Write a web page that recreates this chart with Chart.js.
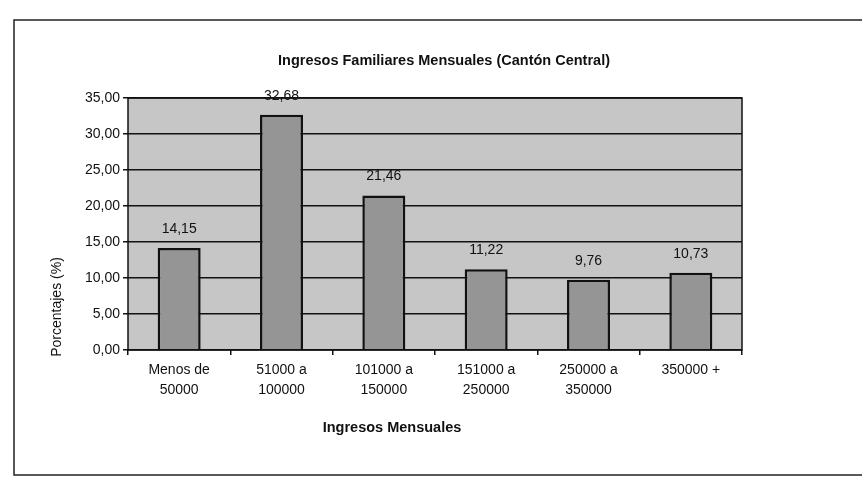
<!DOCTYPE html>
<html>
<head>
<meta charset="utf-8">
<script src="https://cdn.jsdelivr.net/npm/chart.js@4/dist/chart.umd.min.js"></script>
<style>
  html, body { margin: 0; padding: 0; background: #fff; }
  #wrap { width: 862px; height: 490px; position: relative; }
</style>
</head>
<body>
<div id="wrap"><canvas id="ingresosChart"></canvas></div>
<script>
const categories = [
    ['Menos de', '50000'],
    ['51000 a', '100000'],
    ['101000 a', '150000'],
    ['151000 a', '250000'],
    ['250000 a', '350000'],
    ['350000 +']
];
const porcentajes = [14.15, 32.68, 21.46, 11.22, 9.76, 10.73];
const yTicks = [0, 5, 10, 15, 20, 25, 30, 35];

const FONT = '"Liberation Sans", Arial, sans-serif';
const fmt = v => v.toFixed(2).replace('.', ',');

// outer frame, plot background, titles and value labels
const framePlugin = {
    id: 'frame',
    beforeDraw(chart) {
        const ctx = chart.ctx;
        const a = chart.chartArea;
        ctx.save();
        ctx.strokeStyle = '#222';
        ctx.lineWidth = 1.5;
        ctx.strokeRect(14, 20, 900, 455);
        ctx.fillStyle = '#c6c6c6';
        ctx.fillRect(a.left, a.top, a.right - a.left, a.bottom - a.top);

        ctx.fillStyle = '#111';
        ctx.textAlign = 'center';
        ctx.textBaseline = 'middle';
        ctx.font = 'bold 14.5px ' + FONT;
        ctx.fillText('Ingresos Familiares Mensuales (Cantón Central)', 444, 61);
        ctx.fillText('Ingresos Mensuales', 392, 428);
        ctx.font = '14px ' + FONT;
        ctx.translate(57, 307);
        ctx.rotate(-Math.PI / 2);
        ctx.fillText('Porcentajes (%)', 0, 0);
        ctx.restore();
    },
    afterDatasetsDraw(chart) {
        const ctx = chart.ctx;
        const a = chart.chartArea;
        ctx.save();
        ctx.strokeStyle = '#111';
        ctx.lineWidth = 1.5;
        ctx.strokeRect(a.left, a.top, a.right - a.left, a.bottom - a.top);
        ctx.fillStyle = '#111';
        ctx.font = '14px ' + FONT;
        ctx.textAlign = 'center';
        ctx.textBaseline = 'bottom';
        chart.getDatasetMeta(0).data.forEach((bar, i) => {
            ctx.fillText(fmt(porcentajes[i]), bar.x, bar.y - 12);
        });
        ctx.restore();
    }
};

const ctx = document.getElementById('ingresosChart').getContext('2d');
const chart = new Chart(ctx, {
    type: 'bar',
    data: {
        labels: categories,
        datasets: [{
            data: porcentajes,
            backgroundColor: '#959595',
            borderColor: '#111',
            borderWidth: 2.5,
            barPercentage: 0.42,
            categoryPercentage: 1
        }]
    },
    options: {
        responsive: true,
        maintainAspectRatio: false,
        animation: false,
        layout: { padding: { left: 45, right: 120, top: 98, bottom: 48 } },
        plugins: {
            legend: { display: false },
            tooltip: { enabled: false },
            title: { display: false }
        },
        scales: {
            y: {
                min: 0,
                max: 35,
                afterBuildTicks: scale => { scale.ticks = yTicks.map(v => ({ value: v })); },
                afterFit: scale => { scale.width = 83; scale.paddingTop = 0; scale.paddingBottom = 0; },
                ticks: {
                    color: '#111',
                    padding: 3,
                    font: { family: FONT, size: 14 },
                    callback: v => fmt(v)
                },
                grid: { color: '#111', lineWidth: 1.5, tickLength: 5 },
                border: { display: false }
            },
            x: {
                afterFit: scale => { scale.height = 92; scale.paddingLeft = 0; scale.paddingRight = 0; },
                ticks: {
                    color: '#111',
                    padding: 5,
                    maxRotation: 0,
                    font: { family: FONT, size: 14, lineHeight: 1.45 }
                },
                grid: { drawOnChartArea: false, color: '#111', lineWidth: 1.5, tickLength: 5 },
                border: { display: false }
            }
        }
    },
    plugins: [framePlugin]
});
</script>
</body>
</html>
